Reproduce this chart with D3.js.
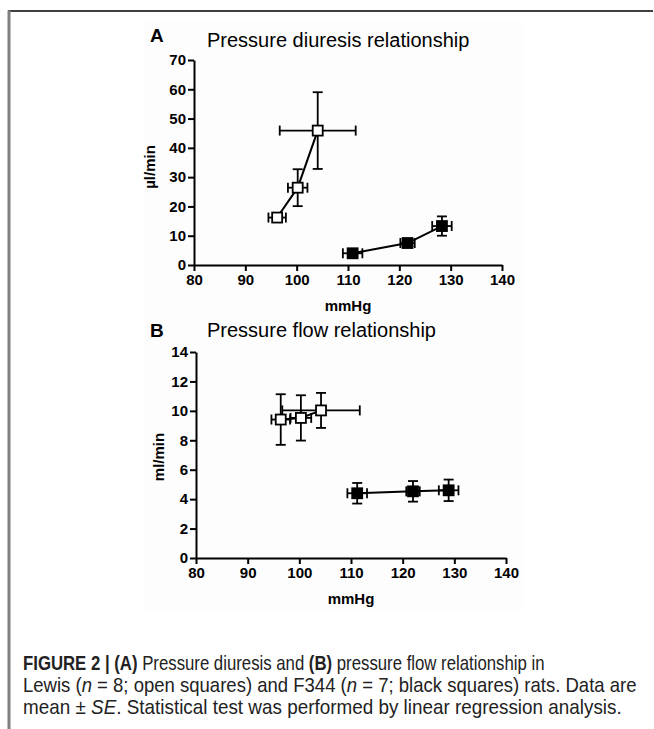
<!DOCTYPE html>
<html>
<head>
<meta charset="utf-8">
<script src="https://cdn.jsdelivr.net/npm/d3@7"></script>
<style>
  body { margin: 0; background: #fff; }
  svg { display: block; }
  .axis path, .axis line { stroke: #000; stroke-width: 2px; }
  .axis text { font-family: "Liberation Sans", Arial, sans-serif; font-weight: bold; font-size: 15px; fill: #000; }
</style>
</head>
<body>
<div id="chart"></div>
<script>
// shared axes
const pressureTicks = [80, 90, 100, 110, 120, 130, 140];
const diuresisTicks = [0, 10, 20, 30, 40, 50, 60, 70];
const flowTicks = [0, 2, 4, 6, 8, 10, 12, 14];

// panel A: pressure diuresis (mean, SE)
const lewisPressureA = [96.2, 100.2, 104.1];
const lewisPressureSeA = [1.7, 1.9, 7.4];
const lewisDiuresis = [16.2, 26.4, 45.9];
const lewisDiuresisSe = [1.0, 6.3, 13.1];
const f344PressureA = [110.9, 121.6, 128.3];
const f344PressureSeA = [1.9, 1.4, 1.9];
const f344Diuresis = [4.0, 7.5, 13.3];
const f344DiuresisSe = [0.7, 1.3, 3.3];

// panel B: pressure flow (mean, SE)
const lewisPressureB = [96.4, 100.3, 104.2];
const lewisPressureSeB = [1.8, 2.0, 7.5];
const lewisFlow = [9.41, 9.52, 10.03];
const lewisFlowSe = [1.72, 1.54, 1.19];
const f344PressureB = [111.2, 122.0, 128.9];
const f344PressureSeB = [1.9, 1.3, 1.9];
const f344Flow = [4.40, 4.53, 4.60];
const f344FlowSe = [0.70, 0.70, 0.73];

const w = 654, h = 729;
const svg = d3.select("#chart").append("svg").attr("width", w).attr("height", h);

// frame
svg.append("rect").attr("x", 145).attr("y", 22).attr("width", 378).attr("height", 588).attr("fill", "#fdfdfd");
svg.append("line").attr("x1", 8).attr("x2", 653).attr("y1", 11).attr("y2", 11)
    .attr("stroke", "#000").attr("stroke-width", 1.5);
svg.append("line").attr("x1", 9).attr("x2", 9).attr("y1", 10.5).attr("y2", h)
    .attr("stroke", "#808080").attr("stroke-width", 3);

const zip = (xs, xe, ys, ye) => xs.map((x, i) => ({x: x, xe: xe[i], y: ys[i], ye: ye[i]}));

function panel(p) {
    const xScale = d3.scaleLinear().domain([80, 140]).range([p.left, p.right]);
    const yScale = d3.scaleLinear().domain([0, p.yTicks[p.yTicks.length - 1]]).range([p.bottom, p.top]);
    const g = svg.append("g");

    g.append("text").attr("x", p.letterX).attr("y", p.letterY)
        .style("font-family", "Liberation Sans, Arial, sans-serif").style("font-weight", "bold")
        .style("font-size", "19px").text(p.letter);
    g.append("text").attr("x", 207).attr("y", p.titleY)
        .style("font-family", "Liberation Sans, Arial, sans-serif")
        .style("font-size", "20px").text(p.title);

    g.append("g").attr("class", "axis")
        .attr("transform", "translate(0," + p.bottom + ")")
        .call(d3.axisBottom(xScale).tickValues(pressureTicks).tickSize(6).tickSizeOuter(0).tickPadding(3));
    g.append("g").attr("class", "axis")
        .attr("transform", "translate(" + p.left + ",0)")
        .call(d3.axisLeft(yScale).tickValues(p.yTicks).tickSize(6).tickSizeOuter(0).tickPadding(2));

    g.append("text").attr("x", (p.left + p.right) / 2).attr("y", p.bottom + 46)
        .attr("text-anchor", "middle")
        .style("font-family", "Liberation Sans, Arial, sans-serif").style("font-weight", "bold")
        .style("font-size", "15px").text("mmHg");
    g.append("text").attr("transform", "translate(" + p.yLabelX + "," + p.yLabelY + ") rotate(-90)")
        .attr("text-anchor", "middle")
        .style("font-family", "Liberation Sans, Arial, sans-serif").style("font-weight", "bold")
        .style("font-size", "15px").text(p.yLabel);

    const cap = 5;
    p.groups.forEach(grp => {
        const pts = grp.pts;
        g.append("path").datum(pts)
            .attr("d", d3.line().x(d => xScale(d.x)).y(d => yScale(d.y)))
            .attr("fill", "none").attr("stroke", "#000").attr("stroke-width", 2);
        const eb = g.append("g").attr("stroke", "#000").attr("stroke-width", 1.8);
        pts.forEach(d => {
            const cx = xScale(d.x), cy = yScale(d.y);
            const x0 = xScale(d.x - d.xe), x1 = xScale(d.x + d.xe);
            const y0 = yScale(d.y - d.ye), y1 = yScale(d.y + d.ye);
            eb.append("line").attr("x1", x0).attr("x2", x1).attr("y1", cy).attr("y2", cy);
            eb.append("line").attr("x1", x0).attr("x2", x0).attr("y1", cy - cap).attr("y2", cy + cap);
            eb.append("line").attr("x1", x1).attr("x2", x1).attr("y1", cy - cap).attr("y2", cy + cap);
            eb.append("line").attr("x1", cx).attr("x2", cx).attr("y1", y0).attr("y2", y1);
            eb.append("line").attr("x1", cx - cap).attr("x2", cx + cap).attr("y1", y0).attr("y2", y0);
            eb.append("line").attr("x1", cx - cap).attr("x2", cx + cap).attr("y1", y1).attr("y2", y1);
        });
        g.selectAll(null).data(pts).enter().append("rect")
            .attr("x", d => xScale(d.x) - 5).attr("y", d => yScale(d.y) - 5)
            .attr("width", 10).attr("height", 10)
            .attr("fill", grp.open ? "#fff" : "#000")
            .attr("stroke", "#000").attr("stroke-width", 1.8);
    });
}

panel({
    letter: "A", letterX: 150, letterY: 42, title: "Pressure diuresis relationship", titleY: 47,
    left: 194, right: 502, top: 60, bottom: 265, yTicks: diuresisTicks,
    yLabel: "\u00b5l/min", yLabelX: 155, yLabelY: 167,
    groups: [
        {open: true, pts: zip(lewisPressureA, lewisPressureSeA, lewisDiuresis, lewisDiuresisSe)},
        {open: false, pts: zip(f344PressureA, f344PressureSeA, f344Diuresis, f344DiuresisSe)}
    ]
});

panel({
    letter: "B", letterX: 150, letterY: 337, title: "Pressure flow relationship", titleY: 337,
    left: 196, right: 506, top: 352, bottom: 558, yTicks: flowTicks,
    yLabel: "ml/min", yLabelX: 164, yLabelY: 457,
    groups: [
        {open: true, pts: zip(lewisPressureB, lewisPressureSeB, lewisFlow, lewisFlowSe)},
        {open: false, pts: zip(f344PressureB, f344PressureSeB, f344Flow, f344FlowSe)}
    ]
});

// caption
const captionLines = [
    {y: 670, right: 545, parts: [["FIGURE 2 | (A)", "b"], [" Pressure diuresis and ", ""], ["(B)", "b"], [" pressure flow relationship in", ""]]},
    {y: 692, right: 637, parts: [["Lewis (", ""], ["n", "i"], [" = 8; open squares) and F344 (", ""], ["n", "i"], [" = 7; black squares) rats. Data are", ""]]},
    {y: 714, right: 622, parts: [["mean \u00b1 ", ""], ["SE", "i"], [". Statistical test was performed by linear regression analysis.", ""]]}
];
const capX = 23;
captionLines.forEach(line => {
    const t = svg.append("text").attr("x", 0).attr("y", 0)
        .style("font-family", "Liberation Sans Narrow, Arial Narrow, Liberation Sans, sans-serif")
        .style("font-size", "20px").attr("fill", "#222");
    line.parts.forEach(pt => {
        t.append("tspan").text(pt[0])
            .style("font-weight", pt[1] === "b" ? "bold" : "normal")
            .style("font-style", pt[1] === "i" ? "italic" : "normal");
    });
    const bw = t.node().getBBox().width;
    const sx = (line.right - capX) / bw;
    t.attr("transform", "translate(" + capX + "," + line.y + ") scale(" + sx + ",1)");
});
</script>
</body>
</html>
